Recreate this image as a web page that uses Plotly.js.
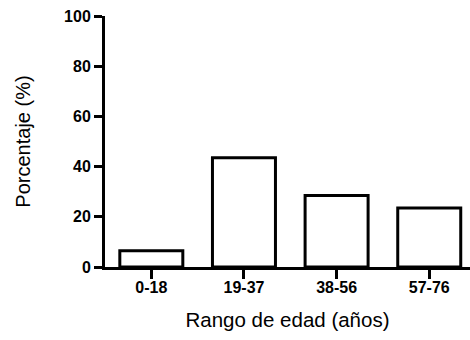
<!DOCTYPE html>
<html>
<head>
<meta charset="utf-8">
<script src="https://cdn.plot.ly/plotly-3.0.1.min.js"></script>
<style>html,body{margin:0;padding:0;background:#fff;}#chart{width:470px;height:340px;}</style>
</head>
<body>
<div id="chart"></div>
<script>
const categories = ["0-18", "19-37", "38-56", "57-76"];
const percentages = [6.5, 43.5, 28.5, 23.5];
const yTickValues = [0, 20, 40, 60, 80, 100];

const font = "Liberation Sans, Arial, sans-serif";

Plotly.newPlot("chart", [{
  type: "bar",
  x: categories,
  y: percentages,
  width: 0.68,
  marker: {color: "#ffffff", line: {color: "#000000", width: 3}},
  hoverinfo: "none"
}], {
  width: 470, height: 340,
  margin: {l: 105, r: 0, t: 16, b: 73, pad: 0},
  paper_bgcolor: "#ffffff", plot_bgcolor: "#ffffff",
  showlegend: false,
  font: {family: font, color: "#000000", size: 16},
  xaxis: {
    type: "category",
    range: [-0.5, 3.44],
    showline: true, linewidth: 3, linecolor: "#000",
    ticks: "outside", ticklen: 9, tickwidth: 3, tickcolor: "#000",
    ticklabelstandoff: -5,
    showgrid: false, zeroline: false,
    tickfont: {family: font, size: 16, color: "#000", weight: "bold"},
    title: {text: "Rango de edad (años)", font: {family: font, size: 20.5, color: "#000"}, standoff: 18}
  },
  yaxis: {
    range: [0, 100],
    tickvals: yTickValues,
    showline: true, linewidth: 3, linecolor: "#000",
    ticks: "outside", ticklen: 8, tickwidth: 3, tickcolor: "#000",
    showgrid: false, zeroline: false,
    tickfont: {family: font, size: 16, color: "#000", weight: "bold"},
    title: {text: "Porcentaje (%)", font: {family: font, size: 20, color: "#000"}, standoff: 29}
  }
}, {staticPlot: true});
</script>
</body>
</html>
